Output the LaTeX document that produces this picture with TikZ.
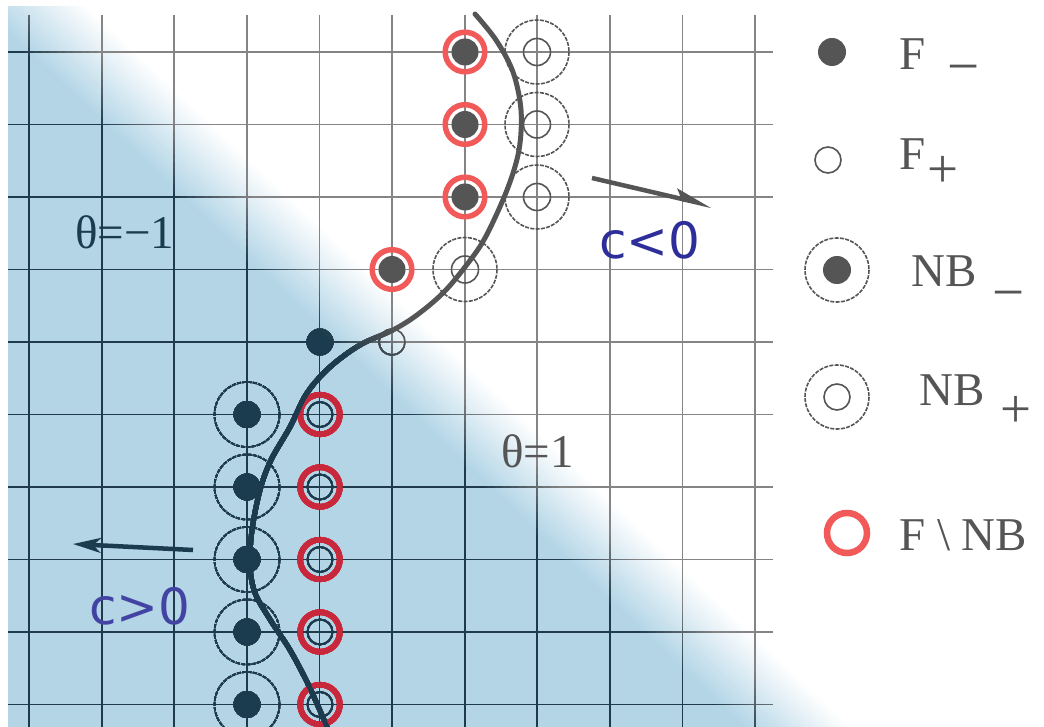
\documentclass[tikz,border=0pt]{standalone}
\usepackage{fontspec}
\setmainfont{Liberation Serif}
\newfontfamily\dejavu{DejaVu Sans}
\usetikzlibrary{arrows.meta}
\definecolor{bgblue}{HTML}{B3D5E6}
\definecolor{navy}{HTML}{1B3B4E}
\definecolor{gridnavy}{HTML}{1E3A4C}
\definecolor{itemgray}{HTML}{555555}
\definecolor{gridgray}{HTML}{858585}
\definecolor{redw}{HTML}{F25A5A}
\definecolor{redb}{HTML}{C8283C}
\definecolor{cblue}{HTML}{2E2E9A}
\tikzset{
  nbdash/.style={line width=1.6pt, dash pattern=on 4pt off 1.3pt},
  smallring/.style={line width=1.6pt},
  redring/.style={line width=5.5pt},
  gridline/.style={line width=1.8pt},
  sertext/.style={font=\fontsize{47}{56}\selectfont, inner sep=0pt, text=itemgray},
  subtext/.style={font=\fontsize{55}{60}\selectfont, inner sep=0pt, text=itemgray, anchor=base},
  ctext/.style={font=\dejavu\fontsize{50}{60}\selectfont, inner sep=0pt, text=cblue, anchor=base west},
}
\newcommand\drawitems{%
  \foreach \i in {0,...,9} \draw[gcol, gridline] (8,52+72.5*\i) -- (773,52+72.5*\i);
  \foreach \i in {0,...,9} \draw[gcol, gridline] (29+72.6*\i,15) -- (29+72.6*\i,727);
  \draw[gcol, line width=2.6pt] (755,15) -- (755,727);
  \foreach \p in {(465,52),(465,124.5),(465,197),(392,269.5)}{
    \fill[icol] \p circle[radius=13.5];
    \draw[rcol, redring] \p circle[radius=19.8];
  }
  \foreach \p in {(537,52),(537,124.5),(537,197),(465,269.5)}{
    \draw[icol, nbdash] \p circle[radius=32];
    \draw[icol, smallring] \p circle[radius=13.5];
  }
  \draw[icol, smallring] (392,342) circle[radius=13];
  \fill[icol] (320,342) circle[radius=13.5];
  \foreach \i in {5,...,9}{
    \draw[icol, nbdash] (247,52+72.5*\i) circle[radius=32.5];
    \fill[icol] (247,52+72.5*\i) circle[radius=13.5];
  }
  \foreach \i in {5,...,9}{
    \draw[icol, smallring] (320,52+72.5*\i) circle[radius=12.5];
    \draw[rcol, redring] (320,52+72.5*\i) circle[radius=19.8];
  }
  \draw[icol, line width=5pt, line cap=round] plot[smooth, tension=0.55] coordinates {
    (475,14) (496,40) (513,72) (521,110) (519,150) (507,190) (485,238) (465,267)
    (443,293) (417,315) (393,330) (360,345) (330,367) (307,393) (290,427) (271,460)
    (260,490) (252,530) (250,565) (255,593) (271,621) (290,650) (309,686) (327,727)};
}
\begin{document}
\begin{tikzpicture}[x=1pt,y=-1pt]
\useasboundingbox (0,0) rectangle (1044,727);
\fill[white] (0,0) rectangle (1044,727);
% background: blue half-plane fading to white
\begin{scope}
  \clip (8,7) rectangle (1044,727);
  \foreach \j in {24,23,...,0}{
    \pgfmathsetmacro\cc{-25+4.3*\j}
    \pgfmathtruncatemacro\pp{100-4*\j}
    \fill[bgblue!\pp!white] (-100,-50) -- ({\cc-53},-50) -- ({\cc+848},800) -- (-100,800) -- cycle;
  }
\end{scope}
% items in the white region
\colorlet{gcol}{gridgray}\colorlet{icol}{itemgray}\colorlet{rcol}{redw}
\drawitems
% items progressively darker towards the blue region
\foreach \k in {1,...,10}{
  \pgfmathsetmacro\cc{50-8*\k}
  \pgfmathtruncatemacro\pp{10*\k}
  \begin{scope}
    \clip (-100,-50) -- ({\cc-53},-50) -- ({\cc+848},800) -- (-100,800) -- cycle;
    \colorlet{gcol}{gridnavy!\pp!gridgray}
    \colorlet{icol}{navy!\pp!itemgray}
    \colorlet{rcol}{redb!\pp!redw}
    \drawitems
  \end{scope}
}
% labels
\node[sertext, text=navy, anchor=base west] (tm) at (75,249) {θ=−1};
\node[sertext, anchor=base west] (tp) at (501,467) {θ=1};
\node[ctext] (cn) at (599,259) {c<0};
\node[ctext, text=cblue!90!white] (cp) at (89,624) {c>0};
% arrows
\coordinate (a1s) at (592,178);
\coordinate (a1e) at (712,206);
\draw[itemgray, line width=4.5pt, -{Stealth[harpoon, length=30pt, width=18pt, inset=6pt]}] (a1s) -- (a1e);
\coordinate (a2s) at (193,550);
\coordinate (a2e) at (73,544);
\draw[navy, line width=4.5pt, -{Stealth[length=28pt, width=15pt, inset=8pt]}] (a2s) -- (a2e);
% legend
\fill[itemgray] (832,52) circle[radius=14];
\node[sertext, anchor=base west] (l1) at (899,70) {F};
\node[subtext, font=\fontsize{57}{60}\selectfont] (l1s) at (964,86) {−};
\draw[itemgray, smallring] (828,160) circle[radius=13];
\node[sertext, anchor=base west] (l2) at (899,170) {F};
\node[subtext] (l2s) at (943,188) {+};
\draw[itemgray, nbdash] (837,270) circle[radius=32];
\fill[itemgray] (837,270) circle[radius=14];
\node[sertext, anchor=base west] (l3) at (911,287) {NB};
\node[subtext, font=\fontsize{57}{60}\selectfont] (l3s) at (1009,312) {−};
\draw[itemgray, nbdash] (837,397) circle[radius=32];
\draw[itemgray, smallring] (837,397) circle[radius=13];
\node[sertext, anchor=base west] (l4) at (919,405) {NB};
\node[subtext] (l4s) at (1016,427) {+};
\draw[redw, line width=6.5pt] (847,533) circle[radius=20];
\node[sertext, anchor=base west] (l5) at (899,550) {F \textbackslash\ NB};
\end{tikzpicture}
\end{document}
